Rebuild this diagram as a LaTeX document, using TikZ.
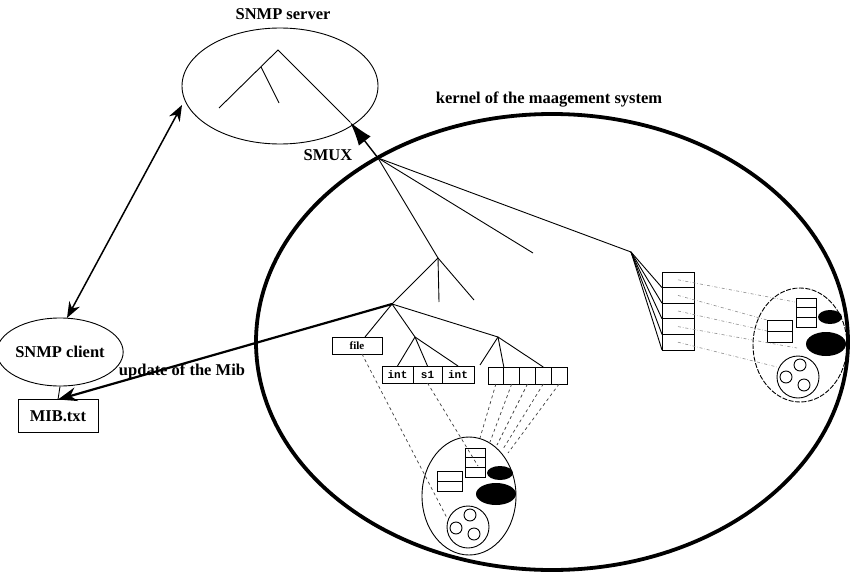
\documentclass[tikz,border=0pt]{standalone}
\usepackage{fontspec}
\setmainfont{Liberation Serif}
\setmonofont{Liberation Mono}
\usetikzlibrary{arrows.meta,shapes.geometric}
\begin{document}
\begin{tikzpicture}[x=1pt,y=-1pt,
  ln/.style={line width=0.9pt},
  lbl/.style={font=\bfseries\fontsize{16.5}{16.5}\selectfont, inner sep=0},
  ell/.style={draw, ellipse, inner sep=0, line width=0.9pt},
  cell/.style={draw, rectangle, inner sep=0, outer sep=0, line width=0.9pt},
  blob/.style={ellipse, fill=black, inner sep=0},
  circ/.style={draw, circle, inner sep=0, line width=0.9pt},
  dsh/.style={dashed, line width=0.7pt, black!75},
  dd/.style={dash dot, line width=0.6pt, black!45},
  tt/.style={font=\ttfamily\bfseries\fontsize{11}{11}\selectfont}
]
\useasboundingbox (0,0) rectangle (853,578);
\fill[white] (0,0) rectangle (853,578);

% ---------- SNMP server ----------
\node[ell, minimum width=196, minimum height=116] (server) at (280,86) {};
\node[lbl] (serverlbl) at (283,14) {SNMP server};
\coordinate (s0) at (278,50);
\coordinate (s1) at (219,108);
\coordinate (sm) at (261,67);
\coordinate (sm2) at (279,103);
\coordinate (smuxtip) at (350,122);
\draw[ln] (s1) -- (s0) -- (smuxtip);
\draw[ln] (sm) -- (sm2);

% ---------- kernel ----------
\node[draw, ellipse, line width=3.8pt, minimum width=592, minimum height=456, inner sep=0] (kernel) at (552,342) {};
\node[lbl] (kernellbl) at (549,100) {kernel of the maagement system};
\node[lbl] (smuxlbl) at (328,155) {SMUX};

\coordinate (R) at (378,158);
\draw[line width=1.4pt, -{Latex[length=24,width=15]}] (R) -- (smuxtip);

\coordinate (A) at (438,258);
\coordinate (K2) at (533,253);
\coordinate (P) at (631,252);
\draw[ln] (R) -- (A);
\draw[ln] (R) -- (K2);
\draw[ln] (R) -- (P);

\coordinate (B) at (392,304);
\coordinate (A2) at (439,302);
\coordinate (A3) at (474,300);
\draw[ln] (A) -- (B);
\draw[ln] (A) -- (A2);
\draw[ln] (A) -- (A3);

% leaf boxes
\node[cell, minimum width=50, minimum height=17, font=\bfseries\fontsize{11}{11}\selectfont] (file) at (357,345.5) {file};
\coordinate (C) at (415,337);
\coordinate (D) at (498,337);
\draw[ln] (B) -- (file.north -| 365,0);
\draw[ln] (B) -- (C);
\draw[ln] (B) -- (D);

\node[cell, tt, minimum width=31, minimum height=17] (c1) at (397.5,374.5) {int};
\node[cell, tt, minimum width=29, minimum height=17] (c2) at (427.5,374.5) {s1};
\node[cell, tt, minimum width=32, minimum height=17] (c3) at (458,374.5) {int};
\draw[ln] (C) -- (c1.north);
\draw[ln] (C) -- (c2.north);
\draw[ln] (C) -- (c3.north);

\foreach \i/\x in {1/495.9,2/511.7,3/527.5,4/543.3,5/559.1}{
  \node[cell, minimum width=15.8, minimum height=17] (f\i) at (\x,375.5) {};
}
\coordinate (D1) at (480,365);
\draw[ln] (D) -- (D1);
\draw[ln] (D) -- (f1.north east);
\draw[ln] (D) -- (f4.north);

% lower ellipse (kernel data)
\node[ell, minimum width=94, minimum height=118] (L) at (469,496) {};
\node[cell, minimum width=20, minimum height=9.7] (ls1) at (475,452.8) {};
\node[cell, minimum width=20, minimum height=9.7] (ls2) at (475,462.5) {};
\node[cell, minimum width=20, minimum height=9.7] (ls3) at (475,472.2) {};
\node[cell, minimum width=25, minimum height=10] (lt1) at (449.5,476) {};
\node[cell, minimum width=25, minimum height=10] (lt2) at (449.5,486) {};
\node[blob, minimum width=26, minimum height=14] (lb1) at (500,473) {};
\node[blob, minimum width=40, minimum height=22] (lb2) at (496,494) {};
\node[circ, minimum size=42] (lc) at (468,527) {};
\node[circ, minimum size=12] (lc1) at (470,515) {};
\node[circ, minimum size=12] (lc2) at (456,528) {};
\node[circ, minimum size=12] (lc3) at (474,534) {};

\coordinate (e1) at (447,518);
\coordinate (e2) at (478,466);
\draw[dsh] (file.south -| 362,0) -- (e1);
\draw[dsh] (c2.south) -- (e2);
\coordinate (g1) at (480,438);
\coordinate (g2) at (490,442);
\coordinate (g3) at (497,445);
\coordinate (g4) at (503,449);
\coordinate (g5) at (508,453);
\foreach \i in {1,...,5}{ \draw[dsh] (f\i.south) -- (g\i); }

% right group
\foreach \i/\y in {1/279.8,2/295.4,3/311,4/326.6,5/342.2}{
  \node[cell, minimum width=32, minimum height=15.6] (col\i) at (678,\y) {};
  \draw[ln] (P) -- (col\i.south west);
}

\node[ell, dash pattern=on 5pt off 1.5pt, minimum width=94, minimum height=114] (Rr) at (800,345) {};
\node[cell, minimum width=20, minimum height=9.7] (rs1) at (806,302.8) {};
\node[cell, minimum width=20, minimum height=9.7] (rs2) at (806,312.5) {};
\node[cell, minimum width=20, minimum height=9.7] (rs3) at (806,322.2) {};
\node[cell, minimum width=25, minimum height=11] (rt1) at (779.5,325.5) {};
\node[cell, minimum width=25, minimum height=11] (rt2) at (779.5,336.5) {};
\node[blob, minimum width=24, minimum height=14] (rb1) at (830,317) {};
\node[blob, minimum width=40, minimum height=24] (rb2) at (826,344) {};
\node[circ, minimum size=42] (rc) at (798,377) {};
\node[circ, minimum size=12] (rc1) at (800,365) {};
\node[circ, minimum size=12] (rc2) at (786,377) {};
\node[circ, minimum size=12] (rc3) at (804,385) {};

\coordinate (h1) at (795,302);
\coordinate (h2) at (767,320);
\coordinate (h3) at (767,331);
\coordinate (h4) at (797,348);
\coordinate (h5) at (777,367);
\foreach \i in {1,...,5}{ \draw[dd] (col\i.center) -- (h\i); }

% ---------- SNMP client ----------
\node[ell, lbl, minimum width=106, minimum height=68] (client) at (60,352) {SNMP client};
\node[cell, lbl, minimum width=80, minimum height=33] (mib) at (58,416) {MIB.txt};
\draw[ln] (client.south) -- (mib.north);

\coordinate (ca) at (67,318);
\coordinate (sa) at (182,105);
\draw[line width=1.5pt, {Stealth[length=16,width=12]}-{Stealth[length=16,width=12]}] (ca) -- (sa);

\draw[line width=2.2pt, -{Stealth[length=19,width=14]}] (B) -- (mib.north);
\node[lbl] (updlbl) at (182,371) {update of the Mib};
\end{tikzpicture}
\end{document}
